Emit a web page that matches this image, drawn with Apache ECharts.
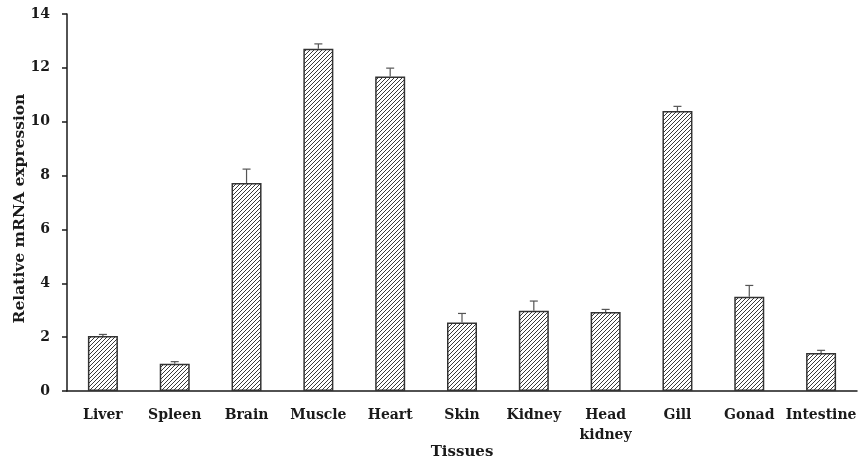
<!DOCTYPE html>
<html><head><meta charset="utf-8">
<script src="https://cdn.jsdelivr.net/npm/echarts@6/dist/echarts.min.js"></script>
<style>html,body{margin:0;padding:0;background:#fff}#c{width:859px;height:466px}</style>
</head><body><div id="c"></div>
<script>
var categories = ['Liver','Spleen','Brain','Muscle','Heart','Skin','Kidney','Head\nkidney','Gill','Gonad','Intestine'];
var values = [2.04, 1.01, 7.72, 12.71, 11.68, 2.54, 2.98, 2.93, 10.40, 3.50, 1.41];
var errors = [0.06, 0.08, 0.52, 0.18, 0.31, 0.34, 0.36, 0.10, 0.17, 0.42, 0.10];
var yTicks = [0, 2, 4, 6, 8, 10, 12, 14];

var FONT = 'DejaVu Serif';
var pc = document.createElement('canvas');
pc.width = 4; pc.height = 4;
var g = pc.getContext('2d');
g.fillStyle = '#fff'; g.fillRect(0,0,4,4);
g.strokeStyle = '#3a3a3a'; g.lineWidth = 1;
g.beginPath();
g.moveTo(-1,5); g.lineTo(5,-1);
g.moveTo(-1,1); g.lineTo(1,-1);
g.moveTo(3,5); g.lineTo(5,3);
g.stroke();

var chart = echarts.init(document.getElementById('c'));
chart.setOption({
  animation: false,
  grid: {left: 67, right: 2, top: 14, bottom: 75, containLabel: false, outerBoundsMode: 'none'},
  xAxis: {
    type: 'category', data: categories,
    name: 'Tissues', nameLocation: 'middle', nameGap: 54, nameMoveOverlap: false,
    nameTextStyle: {fontFamily: FONT, fontWeight: 'bold', fontSize: 15, color: '#1a1a1a'},
    axisLine: {lineStyle: {color: '#1a1a1a', width: 1.5}},
    axisTick: {length: 5, lineStyle: {color: '#1a1a1a', width: 1.5}},
    axisLabel: {fontFamily: FONT, fontWeight: 'bold', fontSize: 14, color: '#1a1a1a', margin: 14, lineHeight: 20, interval: 0}
  },
  yAxis: {
    type: 'value', min: 0, max: 14, interval: 2,
    name: 'Relative mRNA expression', nameLocation: 'middle', nameGap: 39, nameMoveOverlap: false,
    nameTextStyle: {fontFamily: FONT, fontWeight: 'bold', fontSize: 15.5, color: '#1a1a1a', padding: [0, 12, 0, 0]},
    axisLine: {show: true, lineStyle: {color: '#1a1a1a', width: 1.5}},
    axisTick: {show: true, length: 5, lineStyle: {color: '#1a1a1a', width: 1.5}},
    splitLine: {show: false},
    axisLabel: {fontFamily: FONT, fontWeight: 'bold', fontSize: 14, color: '#1a1a1a', margin: 17,
      formatter: function(v){ return yTicks.indexOf(v) >= 0 ? String(v) : ''; }}
  },
  series: [{
    type: 'bar', data: values, barWidth: 30,
    itemStyle: {color: {image: pc, repeat: 'repeat'}, borderColor: '#333', borderWidth: 1.5}
  }, {
    type: 'custom',
    data: values.map(function(v, i){ return [i, v, v + errors[i]]; }),
    renderItem: function(params, api){
      var p0 = api.coord([api.value(0), api.value(1)]);
      var p1 = api.coord([api.value(0), api.value(2)]);
      var hw = 4;
      var st = {stroke: '#555', lineWidth: 1.2};
      return {type: 'group', children: [
        {type: 'line', shape: {x1: p0[0], y1: p0[1], x2: p1[0], y2: p1[1]}, style: st},
        {type: 'line', shape: {x1: p1[0]-hw, y1: p1[1], x2: p1[0]+hw, y2: p1[1]}, style: st}
      ]};
    },
    z: 3
  }]
});
</script></body></html>
